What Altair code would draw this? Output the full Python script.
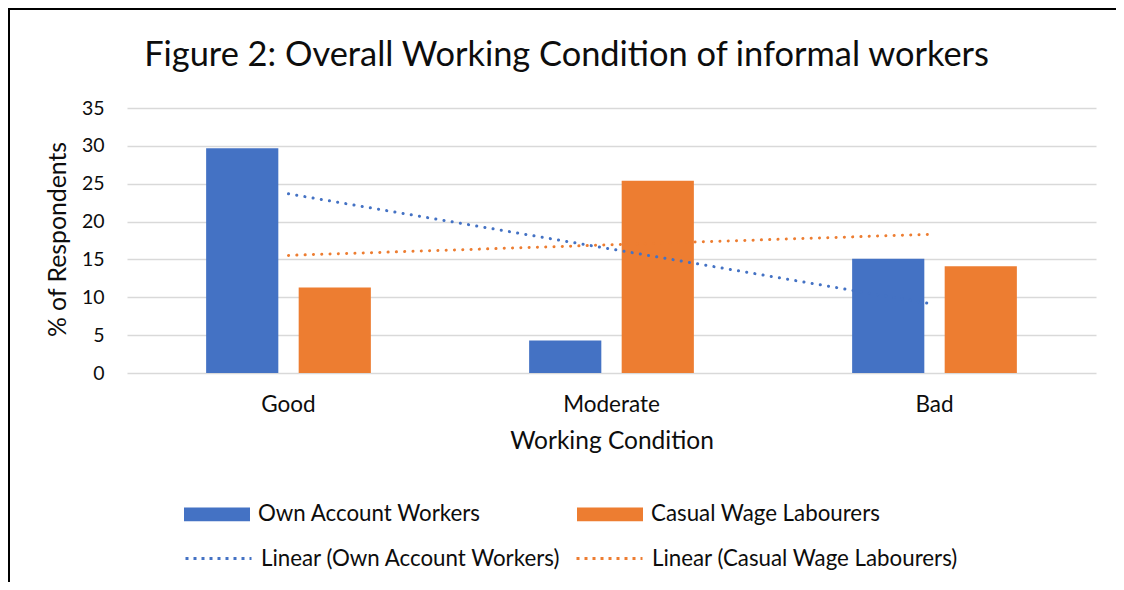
import altair as alt
import pandas as pd

categories = ["Good", "Moderate", "Bad"]
series_names = ["Own Account Workers", "Casual Wage Labourers"]
own_account = [29.7, 4.3, 15.1]
casual_wage = [11.3, 25.4, 14.1]
y_ticks = [0, 5, 10, 15, 20, 25, 30, 35]
colors = ["#4472C4", "#ED7D31"]
trend_names = ["Linear (" + s + ")" for s in series_names]

rows = []
for i, c in enumerate(categories):
    rows.append({"category": c, "series": series_names[0], "value": own_account[i], "idx": i + 1})
    rows.append({"category": c, "series": series_names[1], "value": casual_wage[i], "idx": i + 1})
df = pd.DataFrame(rows)

FONT = "Lato"
TXT = "#0d0d0d"

y_axis = alt.Axis(values=y_ticks, title="% of Respondents", ticks=False, tickSize=0,
                  domain=False, grid=True, gridColor="#d9d9d9", gridWidth=1.5,
                  labelPadding=23, labelFontSize=19.5, labelFont=FONT, labelColor=TXT,
                  titleFontSize=24.8, titleFont=FONT, titleFontWeight="normal",
                  titleColor=TXT, titleAngle=270, titleX=-69, titleY=131,
                  titleBaseline="middle", titleAlign="center")
y_scale = alt.Scale(domain=[0, 35], nice=False)

base = alt.Chart(df)

bars = base.mark_bar().encode(
    x=alt.X("category:N", sort=categories,
            scale=alt.Scale(paddingInner=0.49, paddingOuter=0.245),
            axis=alt.Axis(title="Working Condition", labelAngle=0, ticks=False, tickSize=0,
                          domain=False, labelPadding=20, labelFontSize=22.5, labelFont=FONT,
                          labelColor=TXT, titleFontSize=24.5, titleFont=FONT, titleFontWeight="normal",
                          titleColor=TXT, titlePadding=14)),
    xOffset=alt.XOffset("series:N", sort=series_names,
                        scale=alt.Scale(paddingInner=0.22, paddingOuter=0)),
    y=alt.Y("value:Q", scale=y_scale, axis=y_axis),
    color=alt.Color("series:N", sort=series_names,
                    scale=alt.Scale(domain=series_names, range=colors),
                    legend=alt.Legend(title=None, orient="none", legendX=57, legendY=373,
                                      direction="horizontal", columns=2, columnPadding=95,
                                      symbolType="M-1,-0.21H1V0.21H-1Z", symbolSize=4356,
                                      symbolStrokeWidth=0, labelFontSize=22.3, labelFont=FONT,
                                      labelColor=TXT, labelOffset=8, labelLimit=500, padding=0)),
)

trend = base.transform_regression(
    "idx", "value", groupby=["series"], extent=[1, 3]
).transform_calculate(
    trend="'Linear (' + datum.series + ')'"
).mark_line(strokeWidth=3, strokeCap="round", strokeDash=[0.1, 8.2]).encode(
    x=alt.X("idx:Q", scale=alt.Scale(domain=[0.5, 3.5], nice=False, zero=False), axis=None),
    y=alt.Y("value:Q", scale=y_scale, axis=y_axis),
    stroke=alt.Stroke("trend:N", sort=trend_names,
                      scale=alt.Scale(domain=trend_names, range=colors),
                      legend=alt.Legend(title=None, orient="none", legendX=57, legendY=416,
                                        direction="horizontal", columns=2, columnPadding=9,
                                        symbolType="stroke", symbolSize=4356,
                                        symbolStrokeWidth=3, symbolDash=[3, 5],
                                        labelFontSize=22.3, labelFont=FONT, labelColor=TXT,
                                        labelOffset=8, labelLimit=500, padding=0)),
)

frame = alt.Chart(alt.Data(values=[{}]))
left_border = frame.mark_rule(color="#000", strokeWidth=2).encode(
    x=alt.value(-118), y=alt.value(-99), y2=alt.value(480))
top_border = frame.mark_rule(color="#000", strokeWidth=2).encode(
    x=alt.value(-119), x2=alt.value(1000), y=alt.value(-99))

chart = alt.layer(bars, trend, left_border, top_border).resolve_scale(
    x="independent", color="independent"
).properties(
    width=969, height=265,
    autosize=alt.AutoSizeParams(type="none"),
    padding={"left": 119, "top": 100, "right": 20, "bottom": 209},
    title=alt.TitleParams("Figure 2: Overall Working Condition of informal workers",
                          fontSize=34.4, font=FONT, fontWeight="normal", color=TXT,
                          anchor="middle", frame="group", baseline="alphabetic",
                          offset=-92, dx=-45),
).configure_view(stroke=None)

chart.save("out.html", embed_options={"renderer": "svg", "actions": False})
